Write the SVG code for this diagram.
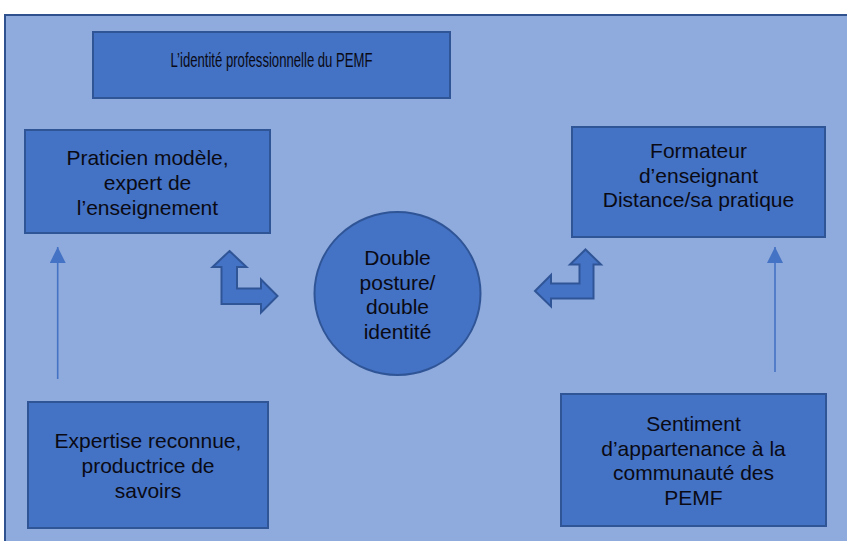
<svg xmlns="http://www.w3.org/2000/svg" width="847" height="541" viewBox="0 0 847 541">
<style>
.box{fill:#4472C4;stroke:#2F5597;stroke-width:2}
.t{font-family:"Liberation Sans",Arial,sans-serif;font-size:21px;fill:#0a0a14;text-anchor:middle}
.bent{fill:#4472C4;stroke:#2F5597;stroke-width:2;stroke-linejoin:miter}
.thin{stroke:#4472C4;stroke-width:1.6;fill:none}
</style>
<defs>
<marker id="ah" viewBox="0 0 16 16" refX="16" refY="8" markerWidth="16" markerHeight="16" markerUnits="userSpaceOnUse" orient="auto">
<path d="M0,0 L16,8 L0,16 Z" fill="#4472C4"/>
</marker>
</defs>
<rect width="847" height="541" fill="#ffffff"/>
<rect id="background" x="5" y="15" width="850" height="535" fill="#8FAADC" stroke="#2F528F" stroke-width="2"/>

<g id="title">
<rect class="box" x="93" y="32" width="357" height="66"/>
<text class="t" x="271.5" y="66.5" textLength="202" lengthAdjust="spacingAndGlyphs">L’identité professionnelle du PEMF</text>
</g>

<g id="praticien">
<rect class="box" x="25" y="130" width="245" height="103"/>
<text class="t" x="147.5" y="165">Praticien modèle,</text>
<text class="t" x="147.5" y="190">expert de</text>
<text class="t" x="147.5" y="215">l’enseignement</text>
</g>

<g id="formateur">
<rect class="box" x="572" y="127" width="253" height="110"/>
<text class="t" x="698.5" y="158">Formateur</text>
<text class="t" x="698.5" y="182.5">d’enseignant</text>
<text class="t" x="698.5" y="207">Distance/sa pratique</text>
</g>

<g id="double">
<ellipse class="box" cx="397.5" cy="293.5" rx="83" ry="81.5"/>
<text class="t" x="397.5" y="265">Double</text>
<text class="t" x="397.5" y="289.5">posture/</text>
<text class="t" x="397.5" y="314">double</text>
<text class="t" x="397.5" y="338.5">identité</text>
</g>

<g id="expertise">
<rect class="box" x="28" y="402" width="240" height="126"/>
<text class="t" x="148" y="448">Expertise reconnue,</text>
<text class="t" x="148" y="473">productrice de</text>
<text class="t" x="148" y="498">savoirs</text>
</g>

<g id="sentiment">
<rect class="box" x="561" y="394" width="265" height="132"/>
<text class="t" x="693.5" y="431">Sentiment</text>
<text class="t" x="693.5" y="455.5">d’appartenance à la</text>
<text class="t" x="693.5" y="480">communauté des</text>
<text class="t" x="693.5" y="504.5">PEMF</text>
</g>

<g id="connectors">
<line class="thin" x1="57.7" y1="379" x2="57.7" y2="247" marker-end="url(#ah)"/>
<line class="thin" x1="775" y1="372" x2="775" y2="247" marker-end="url(#ah)"/>
<polygon class="bent" points="229.5,251 246.5,267 237,267 237,288.5 261,288.5 261,279.5 277.5,296 261,312.5 261,304 221.5,304 221.5,267 212.5,267"/>
<polygon class="bent" points="585.5,249.5 601,264.5 593.5,264.5 593.5,298.5 551,298.5 551,306.5 535,291 551,275 551,283.5 579.5,283.5 579.5,264.5 570,264.5"/>
</g>
</svg>
